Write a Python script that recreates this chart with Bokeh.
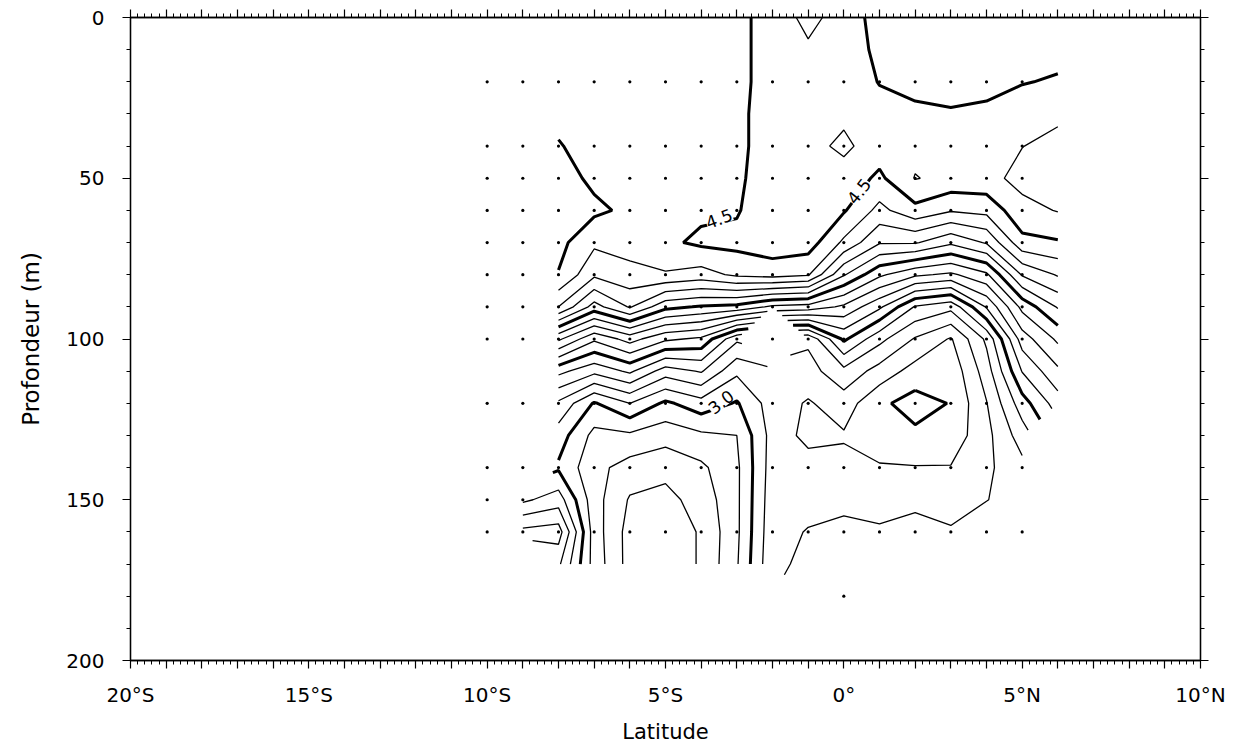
import numpy as np
from bokeh.plotting import figure
from bokeh.models import Range1d, LinearAxis, FixedTicker
from bokeh.embed import file_html
from bokeh.resources import INLINE
from bokeh.core.properties import value

nan = np.nan
FONT = "DejaVu Sans"

# ---- data: oxygen-like section, columns = latitude, rows = depth (m) ----
lat_cols = [-9, -8, -7, -6, -5, -4, -3, -2, -1, 0, 1, 2, 3, 4, 5, 6]
depth_rows = [0, 10, 20, 30, 40, 50, 60, 70, 80, 90, 100, 110, 120, 130, 140, 150, 160, 170, 180]

col_m9 = [nan, nan, nan, nan, nan, nan, nan, nan, nan, nan, nan, nan, nan, nan, nan, 3.08, 3.33, nan, nan]
col_m8 = [4.44, 4.45, 4.46, 4.48, 4.505, 4.54, 4.56, 4.53, 4.495, 4.30, 3.82, 3.43, 3.18, 3.05, 2.985, 3.15, 3.35, 3.22, nan]
col_m7 = [4.44, 4.44, 4.45, 4.46, 4.47, 4.48, 4.52, 4.42, 4.32, 4.06, 3.62, 3.33, 2.99, 2.87, 2.83, 2.84, 2.85, 2.86, nan]
col_m6 = [4.45, 4.45, 4.46, 4.46, 4.47, 4.48, 4.48, 4.44, 4.37, 4.21, 3.74, 3.42, 3.10, 2.88, 2.76, 2.69, 2.66, 2.66, nan]
col_m5 = [4.44, 4.44, 4.45, 4.45, 4.46, 4.47, 4.48, 4.48, 4.39, 4.03, 3.62, 3.25, 2.98, 2.84, 2.73, 2.67, 2.64, 2.64, nan]
col_m4 = [4.44, 4.44, 4.45, 4.45, 4.46, 4.47, 4.48, 4.52, 4.36, 3.99, 3.58, 3.31, 3.06, 2.88, 2.78, 2.74, 2.71, 2.71, nan]
col_m3 = [4.46, 4.46, 4.46, 4.47, 4.47, 4.48, 4.49, 4.53, 4.42, 3.97, 3.32, 3.12, 2.99, 2.90, 2.88, 2.88, 2.88, 2.89, nan]
col_m2 = [4.56, 4.56, 4.56, 4.56, 4.56, 4.56, 4.58, 4.56, 4.44, 3.88, nan, 3.18, 3.15, 3.14, 3.15, 3.16, 3.17, 3.18, nan]
col_m1 = [4.62, 4.59, 4.57, 4.57, 4.57, 4.57, 4.57, 4.55, 4.41, 3.86, 3.22, 3.16, 3.09, 3.08, 3.13, 3.17, 3.205, 3.22, 3.24]
col_00 = [4.57, 4.57, 4.57, 4.58, 4.62, 4.56, 4.51, 4.38, 4.11, 3.78, 3.52, 3.27, 3.15, 3.09, 3.13, 3.18, 3.22, 3.25, 3.27]
col_p1 = [4.45, 4.47, 4.495, 4.54, 4.55, 4.48, 4.37, 4.21, 3.92, 3.62, 3.33, 3.16, 3.02, 3.04, 3.11, 3.17, 3.21, 3.23, 3.25]
col_p2 = [4.42, 4.44, 4.47, 4.52, 4.57, 4.605, 4.47, 4.21, 3.82, 3.39, 3.19, 3.06, 2.96, 3.02, 3.105, 3.18, 3.23, nan, nan]
col_p3 = [4.42, 4.43, 4.46, 4.51, 4.57, 4.57, 4.41, 4.12, 3.78, 3.33, 3.09, 3.03, 3.005, 3.04, 3.105, 3.16, 3.21, nan, nan]
col_p4 = [4.42, 4.43, 4.47, 4.52, 4.58, 4.57, 4.43, 4.21, 3.88, 3.61, 3.32, 3.25, 3.195, 3.17, 3.18, 3.198, 3.24, nan, nan]
col_p5 = [4.43, 4.46, 4.495, 4.55, 4.598, 4.63, 4.57, 4.47, 4.21, 3.93, 3.75, 3.605, 3.456, 3.35, 3.27, 3.23, 3.22, nan, nan]
col_p6 = [4.43, 4.47, 4.51, 4.58, 4.63, 4.63, 4.605, 4.49, 4.31, 4.11, 3.92, 3.78, 3.65, nan, nan, nan, nan, nan, nan]

levels = [2.7, 2.8, 2.9, 3.0, 3.1, 3.2, 3.3, 3.4, 3.5, 3.6, 3.7, 3.8, 3.9,
          4.0, 4.1, 4.2, 4.3, 4.4, 4.5, 4.6]
bold_levels = [3.0, 3.5, 4.0, 4.5]

# sampling stations (dots)
dot_lats = [-10, -9, -8, -7, -6, -5, -4, -3, -2, -1, 0, 1, 2, 3, 4, 5]
dot_depths = [20, 40, 50, 60, 70, 80, 90, 100, 120, 140, 160]
extra_dot_lat = [-10, -9, 0]
extra_dot_depth = [150, 150, 180]

# contour labels
lab_lat = [-3.5, 0.42, -3.45]
lab_dep = [62.5, 54.0, 119.5]
lab_txt = ["4.5", "4.5", "3.0"]
lab_ang = [20, 52, 38]

# axis ticks
x_major = [-20, -15, -10, -5, 0, 5, 10]
x_major_labels = ["20°S", "15°S", "10°S", "5°S", "0°", "5°N", "10°N"]
y_major = [0, 50, 100, 150, 200]

# ---- build ----
cols = [col_m9, col_m8, col_m7, col_m6, col_m5, col_m4, col_m3, col_m2, col_m1,
        col_00, col_p1, col_p2, col_p3, col_p4, col_p5, col_p6]
Z = np.array(cols, dtype=float).T  # shape (ny, nx)

p = figure(x_range=Range1d(-20, 10), y_range=Range1d(200, 0),
           frame_width=1070, frame_height=643,
           min_border_left=130, min_border_right=30, min_border_top=17, min_border_bottom=86,
           output_backend="svg", toolbar_location=None)
p.xgrid.visible = False
p.ygrid.visible = False
p.outline_line_color = "black"
p.outline_line_width = 1.3
p.background_fill_color = "white"
p.border_fill_color = "white"

widths = [3.0 if lv in bold_levels else 1.3 for lv in levels]
p.contour(x=lat_cols, y=depth_rows, z=Z, levels=levels,
          line_color="black", line_width=widths)

dx = [la for d in dot_depths for la in dot_lats] + extra_dot_lat
dy = [d for d in dot_depths for la in dot_lats] + extra_dot_depth
p.scatter(x=dx, y=dy, size=3.2, color="black", line_color=None)

p.text(x=lab_lat, y=lab_dep, text=lab_txt, angle=lab_ang, angle_units="deg",
       text_align="center", text_baseline="middle",
       text_font=value(FONT), text_font_size="17px", text_color="black",
       background_fill_color="white")

x_minor = [round(-20 + 0.2 * i, 1) for i in range(151)]
x_ticks_1deg = list(range(-20, 11))
y_minor = list(range(0, 201, 10))

def style_common(ax, labels):
    ax.major_tick_in = 0
    ax.major_tick_out = 8
    ax.minor_tick_in = 0
    ax.minor_tick_out = 4
    ax.axis_line_width = 1.3
    ax.axis_line_color = "black"
    ax.major_tick_line_width = 1.2
    ax.minor_tick_line_width = 1
    ax.major_tick_line_color = "black"
    ax.minor_tick_line_color = "black"
    ax.major_label_text_font = FONT
    ax.major_label_text_font_size = "20px"
    ax.major_label_text_color = "black" if labels else None

def style_x(ax, labels=True):
    ax.ticker = FixedTicker(ticks=x_ticks_1deg, minor_ticks=x_minor)
    lab = dict(zip(x_major, x_major_labels))
    ax.major_label_overrides = {t: (lab.get(t, "") if labels else "") for t in x_ticks_1deg}
    style_common(ax, labels)
    ax.major_label_standoff = 14

def style_y(ax, labels=True):
    ax.ticker = FixedTicker(ticks=y_major, minor_ticks=y_minor)
    style_common(ax, labels)
    ax.major_label_standoff = 18
    if not labels:
        ax.major_label_overrides = {t: "" for t in y_major}

style_x(p.xaxis[0])
p.xaxis[0].axis_label = "Latitude"
p.xaxis[0].axis_label_text_font = FONT
p.xaxis[0].axis_label_text_font_size = "21px"
p.xaxis[0].axis_label_text_font_style = "normal"
p.xaxis[0].axis_label_text_color = "black"
p.xaxis[0].axis_label_standoff = 10

style_y(p.yaxis[0])
p.yaxis[0].axis_label = "Profondeur (m)"
p.yaxis[0].axis_label_text_font = FONT
p.yaxis[0].axis_label_text_font_size = "23px"
p.yaxis[0].axis_label_text_font_style = "normal"
p.yaxis[0].axis_label_text_color = "black"
p.yaxis[0].axis_label_standoff = 19

top = LinearAxis()
style_x(top, labels=False)
p.add_layout(top, "above")
right = LinearAxis()
style_y(right, labels=False)
p.add_layout(right, "right")

open("out.html", "w").write(file_html(p, INLINE))
